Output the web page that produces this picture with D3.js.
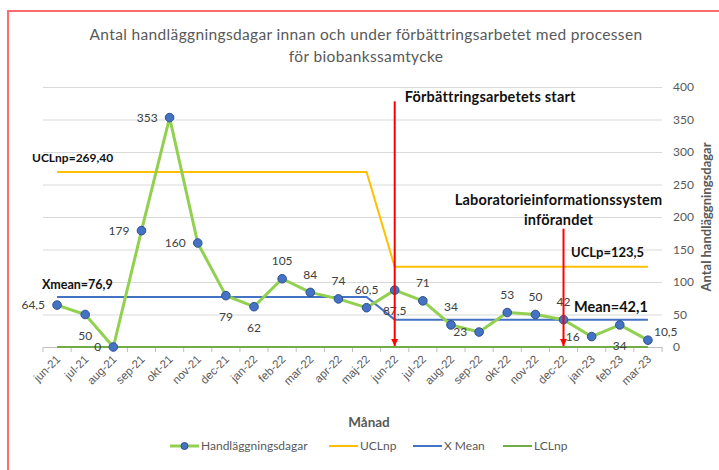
<!DOCTYPE html>
<html>
<head>
<meta charset="utf-8">
<script src="https://cdn.jsdelivr.net/npm/d3@7"></script>
<style>
  body { margin: 0; background: #fff; }
  svg { display: block; font-family: Lato, "Noto Sans", sans-serif; }
</style>
</head>
<body>
<svg id="chart"></svg>
<script>
// chart size
const width = 719;
const height = 470;

// data
const months = ["jun-21", "jul-21", "aug-21", "sep-21", "okt-21", "nov-21", "dec-21", "jan-22",
  "feb-22", "mar-22", "apr-22", "maj-22", "jun-22", "jul-22", "aug-22", "sep-22",
  "okt-22", "nov-22", "dec-22", "jan-23", "feb-23", "mar-23"];
const dagar = [64.5, 50, 0, 179, 353, 160, 79, 62, 105, 84, 74, 60.5, 87.5, 71, 34, 23, 53, 50, 42, 16, 34, 10.5];
const uclnp = [269.4, 269.4, 269.4, 269.4, 269.4, 269.4, 269.4, 269.4, 269.4, 269.4, 269.4, 269.4,
  123.5, 123.5, 123.5, 123.5, 123.5, 123.5, 123.5, 123.5, 123.5, 123.5];
const xmean = [76.9, 76.9, 76.9, 76.9, 76.9, 76.9, 76.9, 76.9, 76.9, 76.9, 76.9, 76.9,
  42.1, 42.1, 42.1, 42.1, 42.1, 42.1, 42.1, 42.1, 42.1, 42.1];
const lclnp = [0, 0, 0, 0, 0, 0, 0, 0, 0, 0, 0, 0, 0, 0, 0, 0, 0, 0, 0, 0, 0, 0];
const yTicks = [0, 50, 100, 150, 200, 250, 300, 350, 400];
// where excel put each data label
const labelPos = ["left", "below", "left", "left", "left", "left", "below", "below", "above", "above",
  "above", "above", "below", "above", "above", "left", "above", "above", "above", "left", "below", "right"];

const fmt = v => String(v).replace(".", ",");

const margin = { top: 87, right: 57, bottom: 123, left: 43 };

const x = d3.scaleBand()
  .domain(months)
  .range([margin.left, width - margin.right])
  .padding(0);
const cx = m => x(m) + x.bandwidth() / 2;

const y = d3.scaleLinear()
  .domain([0, 400])
  .range([height - margin.bottom, margin.top]);

const svg = d3.select("#chart")
  .attr("width", width)
  .attr("height", height)
  .attr("viewBox", [0, 0, width, height]);

svg.append("defs").append("marker")
  .attr("id", "arrow")
  .attr("viewBox", "0 0 10 10")
  .attr("refX", 10).attr("refY", 5)
  .attr("markerWidth", 3.5).attr("markerHeight", 4)
  .attr("markerUnits", "strokeWidth")
  .attr("orient", "auto")
  .append("path")
  .attr("d", "M0,0L10,5L0,10Z")
  .attr("fill", "#ff0000");

// outer frame (only top and left visible)
svg.append("path")
  .attr("d", `M8,${height}V11H${width}`)
  .attr("fill", "none")
  .attr("stroke", "#ff6b6b")
  .attr("stroke-width", 2);

// title
svg.append("text")
  .attr("x", 366).attr("y", 40)
  .attr("text-anchor", "middle")
  .attr("fill", "#595959")
  .attr("font-size", 15.5)
  .attr("letter-spacing", 0.35)
  .selectAll("tspan")
  .data(["Antal handläggningsdagar innan och under förbättringsarbetet med processen", "för biobankssamtycke"])
  .join("tspan")
  .attr("x", 366)
  .attr("dy", (d, i) => i ? 22 : 0)
  .text(d => d);

// gridlines + right axis
const yAxis = svg.append("g")
  .attr("transform", `translate(${width - margin.right},0)`)
  .call(d3.axisRight(y).tickValues(yTicks).tickSize(0).tickPadding(11))
  .call(g => g.select(".domain").remove());
yAxis.selectAll(".tick line").clone()
  .attr("x2", -(width - margin.right - margin.left))
  .attr("stroke", "#d9d9d9");
yAxis.selectAll(".tick text")
  .attr("fill", "#595959")
  .attr("font-size", 12)
  .attr("font-family", "Lato, sans-serif");

svg.append("text")
  .attr("transform", `translate(711,${y(200)}) rotate(-90)`)
  .attr("text-anchor", "middle")
  .attr("fill", "#595959")
  .attr("font-weight", "bold")
  .attr("font-size", 13)
  .text("Antal handläggningsdagar");

// x axis
const xAxis = svg.append("g")
  .attr("transform", `translate(0,${y(0)})`)
  .call(d3.axisBottom(x).tickSize(0).tickFormat(""))
  .call(g => g.select(".domain").attr("stroke", "#bfbfbf"));
xAxis.selectAll(".bound")
  .data(months.concat("end"))
  .join("line")
  .attr("x1", (d, i) => margin.left + i * x.bandwidth())
  .attr("x2", (d, i) => margin.left + i * x.bandwidth())
  .attr("y1", 0).attr("y2", 5)
  .attr("stroke", "#bfbfbf");
xAxis.selectAll(".mlabel")
  .data(months)
  .join("text")
  .attr("transform", d => `translate(${cx(d) + 4},${13}) rotate(-45)`)
  .attr("text-anchor", "end")
  .attr("fill", "#595959")
  .attr("font-size", 11.5)
  .text(d => d);

svg.append("text")
  .attr("x", 369).attr("y", 427)
  .attr("text-anchor", "middle")
  .attr("fill", "#595959")
  .attr("font-weight", "bold")
  .attr("font-size", 13.5)
  .text("Månad");

// control lines
const line = series => d3.line()
  .x((d, i) => cx(months[i]))
  .y(d => y(d))(series);

svg.append("path").attr("d", line(lclnp)).attr("fill", "none").attr("stroke", "#70ad47").attr("stroke-width", 2);
svg.append("path").attr("d", line(uclnp)).attr("fill", "none").attr("stroke", "#ffc000").attr("stroke-width", 2);
svg.append("path").attr("d", line(xmean)).attr("fill", "none").attr("stroke", "#4472c4").attr("stroke-width", 2);

// main series
svg.append("path")
  .attr("d", line(dagar))
  .attr("fill", "none")
  .attr("stroke", "#92d050")
  .attr("stroke-width", 3)
  .attr("stroke-linejoin", "round");

svg.append("g")
  .selectAll("circle")
  .data(dagar)
  .join("circle")
  .attr("cx", (d, i) => cx(months[i]))
  .attr("cy", d => y(d))
  .attr("r", 4.3)
  .attr("fill", "#4472c4")
  .attr("stroke", "#2f528f")
  .attr("stroke-width", 1);

// data labels
svg.append("g")
  .attr("font-size", 12)
  .attr("fill", "#404040")
  .selectAll("text")
  .data(dagar)
  .join("text")
  .attr("x", (d, i) => {
    const p = labelPos[i];
    return cx(months[i]) + (p === "left" ? -12 : p === "right" ? 6 : 0);
  })
  .attr("y", (d, i) => {
    const p = labelPos[i];
    return y(d) + (p === "above" ? -18 : p === "below" ? 21 : p === "right" ? -8 : 0);
  })
  .attr("dy", "0.35em")
  .attr("text-anchor", (d, i) => labelPos[i] === "left" ? "end" : labelPos[i] === "right" ? "start" : "middle")
  .text(d => fmt(d));

// events (red arrows)
const events = [
  { month: "jun-22", top: 378, lines: ["Förbättringsarbetets start"], anchor: "start", dx: 10, ty: 377 },
  { month: "dec-22", top: 182, lines: ["Laboratorieinformationssystem", "införandet"], anchor: "middle", dx: -5, ty: 219 }
];
events.forEach(e => {
  svg.append("line")
    .attr("x1", cx(e.month)).attr("x2", cx(e.month))
    .attr("y1", y(e.top)).attr("y2", y(0) - 1)
    .attr("stroke", "#ff0000")
    .attr("stroke-width", 2)
    .attr("marker-end", "url(#arrow)");
  svg.append("text")
    .attr("text-anchor", e.anchor)
    .attr("font-weight", "bold")
    .attr("font-size", 14.5)
    .attr("letter-spacing", 0.2)
    .attr("fill", "#111")
    .selectAll("tspan")
    .data(e.lines)
    .join("tspan")
    .attr("x", cx(e.month) + e.dx)
    .attr("y", (d, i) => y(e.ty) + i * 20)
    .text(d => d);
});

// control limit labels
const limitLabels = [
  { text: "UCLnp=269,40", x: 32, value: 269.4, dy: -10, size: 12 },
  { text: "Xmean=76,9", x: 42, value: 76.9, dy: -8, size: 12.5 },
  { text: "UCLp=123,5", x: 571, value: 123.5, dy: -10, size: 13 },
  { text: "Mean=42,1", x: 574, value: 42.1, dy: -8, size: 14.5 }
];
svg.append("g")
  .attr("font-weight", "bold")
  .attr("fill", "#111")
  .selectAll("text")
  .data(limitLabels)
  .join("text")
  .attr("x", d => d.x)
  .attr("y", d => y(d.value) + d.dy)
  .attr("font-size", d => d.size)
  .text(d => d.text);

// legend
const legend = [
  { name: "Handläggningsdagar", color: "#92d050", w: 3, marker: true, x: 170 },
  { name: "UCLnp", color: "#ffc000", w: 2, x: 329 },
  { name: "X Mean", color: "#4472c4", w: 2, x: 413 },
  { name: "LCLnp", color: "#70ad47", w: 2, x: 503 }
];
const lg = svg.append("g").attr("transform", "translate(0,446)");
const item = lg.selectAll("g").data(legend).join("g")
  .attr("transform", d => `translate(${d.x},0)`);
item.append("line")
  .attr("x2", 29)
  .attr("stroke", d => d.color)
  .attr("stroke-width", d => d.w);
item.filter(d => d.marker).append("circle")
  .attr("cx", 14.5).attr("r", 3.5)
  .attr("fill", "#4472c4").attr("stroke", "#2f528f");
item.append("text")
  .attr("x", 31).attr("dy", "0.35em")
  .attr("font-size", 12)
  .attr("fill", "#595959")
  .text(d => d.name);
</script>
</body>
</html>
